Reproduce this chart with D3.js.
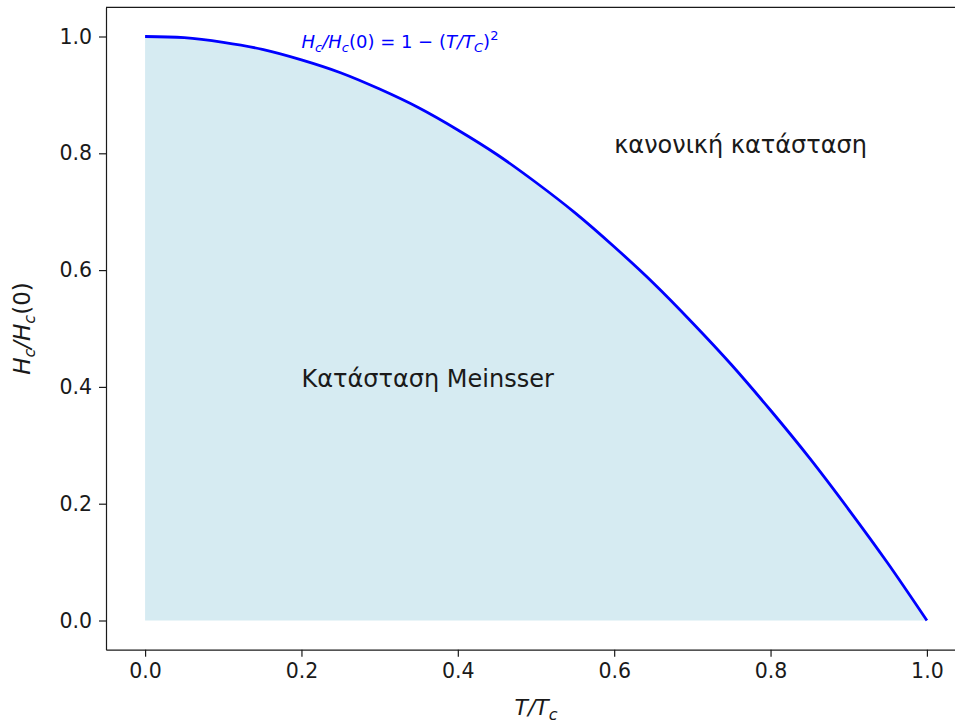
<!DOCTYPE html>
<meta charset="utf-8">
<title>Critical field</title>
<script src="https://d3js.org/d3.v7.min.js"></script>
<style>
  body { margin: 0; background: #fff; }
  text { font-family: "DejaVu Sans", sans-serif; fill: #1a1a1a; }
</style>
<body>
<script>

// Values
const tRatio = [0.0, 0.05, 0.1, 0.15, 0.2, 0.25, 0.3, 0.35, 0.4, 0.45, 0.5,
                0.55, 0.6, 0.65, 0.7, 0.75, 0.8, 0.85, 0.9, 0.95, 1.0];
const hRatio = [1.0, 0.998, 0.99, 0.978, 0.96, 0.938, 0.91, 0.878, 0.84, 0.798, 0.75,
                0.698, 0.64, 0.578, 0.51, 0.438, 0.36, 0.278, 0.19, 0.098, 0.0];
const xTicks = [0.0, 0.2, 0.4, 0.6, 0.8, 1.0];
const yTicks = [0.0, 0.2, 0.4, 0.6, 0.8, 1.0];

const width = 955;
const height = 724;

const x = d3.scaleLinear().domain([-0.05, 1.05]).range([106, 966]);
const y = d3.scaleLinear().domain([-0.05, 1.05]).range([649.7, 7.3]);

const data = tRatio.map((t, i) => ({ t: t, h: hRatio[i] }));

const svg = d3.select("body").append("svg")
  .attr("width", width)
  .attr("height", height);

// shaded superconducting region
svg.append("path")
  .datum(data)
  .attr("fill", "#add8e6")
  .attr("fill-opacity", 0.5)
  .attr("d", d3.area()
    .x(d => x(d.t))
    .y0(y(0))
    .y1(d => y(d.h))
    .curve(d3.curveNatural));

// critical field curve
svg.append("path")
  .datum(data)
  .attr("fill", "none")
  .attr("stroke", "blue")
  .attr("stroke-width", 2.8)
  .attr("d", d3.line()
    .x(d => x(d.t))
    .y(d => y(d.h))
    .curve(d3.curveNatural));

// axes
const xAxis = svg.append("g")
  .attr("transform", `translate(0,${y.range()[0]})`)
  .call(d3.axisBottom(x).tickValues(xTicks).tickFormat(d3.format(".1f"))
    .tickSize(7).tickSizeOuter(0).tickPadding(7));
const yAxis = svg.append("g")
  .attr("transform", `translate(${x.range()[0]},0)`)
  .call(d3.axisLeft(y).tickValues(yTicks).tickFormat(d3.format(".1f"))
    .tickSize(7).tickSizeOuter(0).tickPadding(7));

[xAxis, yAxis].forEach(g => {
  g.selectAll("text").style("font-size", "20.5px").attr("fill", "#1a1a1a");
  g.selectAll("line").attr("stroke", "#1a1a1a").attr("stroke-width", 1.2);
  g.select(".domain").attr("stroke", "#1a1a1a").attr("stroke-width", 1.2);
});

// top spine
svg.append("line")
  .attr("x1", x.range()[0]).attr("x2", x.range()[1])
  .attr("y1", y.range()[1]).attr("y2", y.range()[1])
  .attr("stroke", "#1a1a1a").attr("stroke-width", 1.2);

// axis labels
const xl = svg.append("text")
  .attr("x", (x.range()[0] + x.range()[1]) / 2)
  .attr("y", 715)
  .attr("text-anchor", "middle")
  .style("font-size", "22px");
xl.append("tspan").attr("font-style", "italic").text("T/T");
xl.append("tspan").attr("font-style", "italic").attr("dy", 5).style("font-size", "16px").text("c");

const yl = svg.append("text")
  .attr("transform", `translate(30,${(y.range()[0] + y.range()[1]) / 2}) rotate(-90)`)
  .attr("text-anchor", "middle")
  .style("font-size", "23px");
yl.append("tspan").attr("font-style", "italic").text("H");
yl.append("tspan").attr("font-style", "italic").attr("dy", 5).style("font-size", "16px").text("c");
yl.append("tspan").attr("font-style", "italic").attr("dy", -5).text("/H");
yl.append("tspan").attr("font-style", "italic").attr("dy", 5).style("font-size", "16px").text("c");
yl.append("tspan").attr("dy", -5).text("(0)");

// curve formula label
const fl = svg.append("text")
  .attr("x", x(0.2))
  .attr("y", y(0.98))
  .style("font-size", "18px");
const parts = [
  ["H", "italic", 0, 18], ["c", "italic", 4, 13], ["/H", "italic", -4, 18], ["c", "italic", 4, 13],
  ["(0) = 1 \u2212 (", "normal", -4, 18], ["T/T", "italic", 0, 18], ["C", "italic", 4, 13],
  [")", "normal", -4, 18], ["2", "normal", -8, 13]
];
parts.forEach(p => {
  fl.append("tspan")
    .attr("font-style", p[1])
    .attr("dy", p[2])
    .style("font-size", p[3] + "px")
    .style("fill", "blue")
    .text(p[0]);
});

// region labels
svg.append("text")
  .attr("x", x(0.6))
  .attr("y", y(0.8))
  .style("font-size", "24px")
  .text("κανονική κατάσταση");

svg.append("text")
  .attr("x", x(0.2))
  .attr("y", y(0.4))
  .style("font-size", "24px")
  .text("Κατάσταση Meinsser");

</script>
</body>
